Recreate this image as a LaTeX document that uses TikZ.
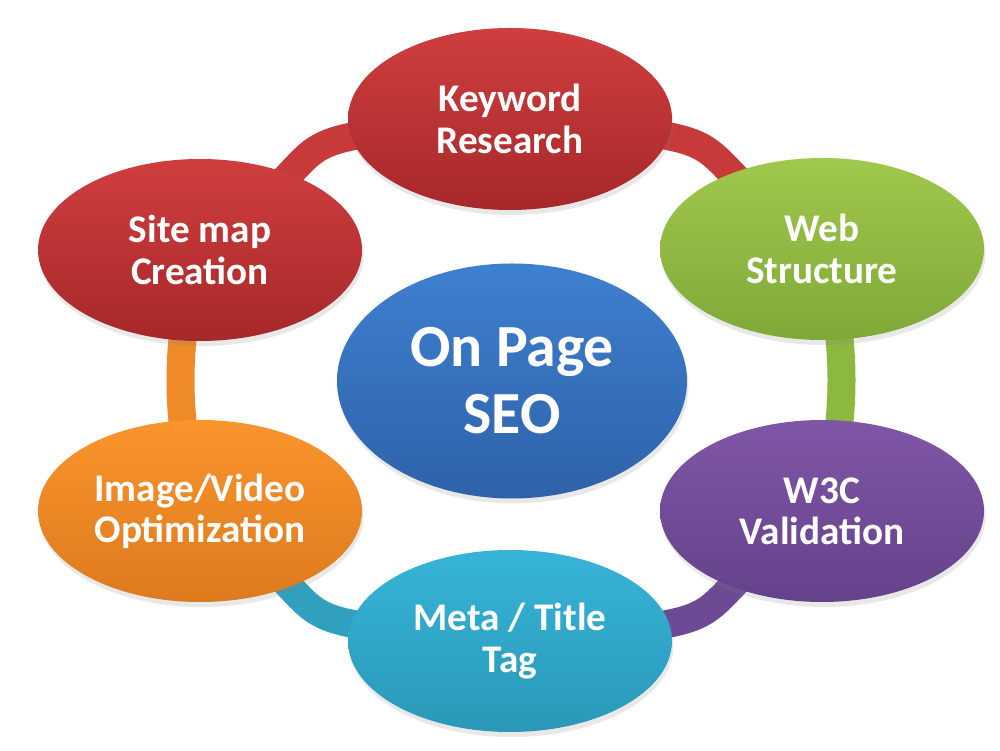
\documentclass[tikz,border=0pt]{standalone}
\usepackage{fontspec}
\setmainfont{Carlito}
\usetikzlibrary{backgrounds,shapes.geometric,shadows}

\definecolor{redtop}{RGB}{208,62,62}
\definecolor{redbot}{RGB}{166,40,42}
\definecolor{greentop}{RGB}{160,200,76}
\definecolor{greenbot}{RGB}{128,168,56}
\definecolor{purpletop}{RGB}{128,86,166}
\definecolor{purplebot}{RGB}{100,66,138}
\definecolor{tealtop}{RGB}{54,180,216}
\definecolor{tealbot}{RGB}{42,152,184}
\definecolor{orangetop}{RGB}{250,148,44}
\definecolor{orangebot}{RGB}{222,122,30}
\definecolor{bluetop}{RGB}{62,128,208}
\definecolor{bluebot}{RGB}{46,98,168}

\begin{document}
\begin{tikzpicture}[x=0.2mm,y=0.2mm,
  topic/.style={ellipse,minimum width=64.8mm,minimum height=36.4mm,inner sep=0pt,align=center,text=white,
    font=\fontsize{22.3}{23.5}\selectfont\bfseries,
    drop shadow={shadow xshift=0.3mm,shadow yshift=-1mm,opacity=0.18}},
  ring/.style={line width=5.6mm}]
  \useasboundingbox (0,0) rectangle (1000,750);
  \node[topic,top color=redtop,bottom color=redbot] (keyword) at (510,631) {Keyword\\Research};
  \node[topic,top color=greentop,bottom color=greenbot] (web) at (822,501) {Web\\Structure};
  \node[topic,top color=purpletop,bottom color=purplebot] (w3c) at (822,239) {W3C\\Validation};
  \node[topic,top color=tealtop,bottom color=tealbot] (meta) at (510,109) {Meta / Title\\Tag};
  \node[topic,top color=orangetop,bottom color=orangebot] (image) at (200,239) {Image/Video\\Optimization};
  \node[topic,top color=redtop,bottom color=redbot] (sitemap) at (200,500) {Site map\\Creation};
  \node[topic,minimum width=70mm,minimum height=47mm,top color=bluetop,bottom color=bluebot,
    font=\fontsize{34}{38}\selectfont\bfseries] (seo) at (512,369) {On Page\\SEO};

  \begin{scope}[on background layer]
    \draw[ring,color={rgb,255:red,200;green,58;blue,58}] (sitemap.center) .. controls +(166,116) and +(-272,-24) .. (keyword.center);
    \draw[ring,color={rgb,255:red,200;green,58;blue,58}] (keyword.center) .. controls +(272,-24) and +(-166,116) .. (web.center);
    \draw[ring,color={rgb,255:red,140;green,184;blue,62}] (web.center) .. controls +(26,-90) and +(26,90) .. (w3c.center);
    \draw[ring,color={rgb,255:red,108;green,74;blue,148}] (w3c.center) .. controls +(-166,-116) and +(272,24) .. (meta.center);
    \draw[ring,color={rgb,255:red,48;green,160;blue,190}] (meta.center) .. controls +(-272,24) and +(166,-116) .. (image.center);
    \draw[ring,color={rgb,255:red,238;green,138;blue,40}] (image.center) .. controls +(-26,90) and +(-26,-90) .. (sitemap.center);
  \end{scope}
\end{tikzpicture}
\end{document}
